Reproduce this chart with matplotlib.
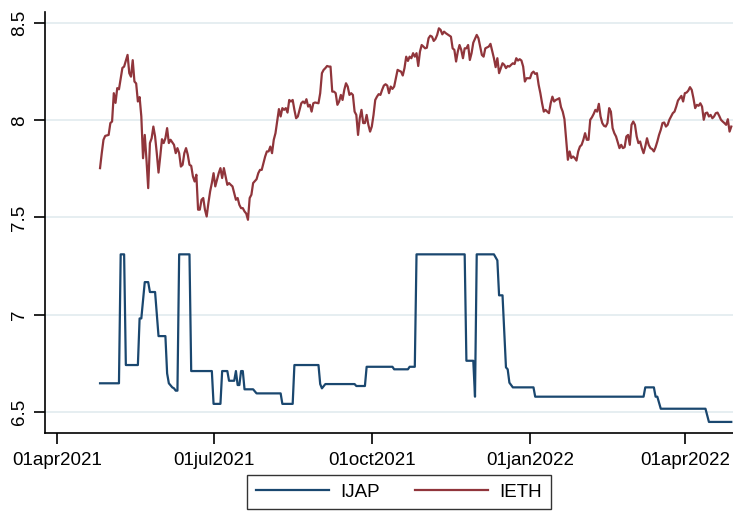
import numpy as np
import matplotlib
matplotlib.use("Agg")
import matplotlib.pyplot as plt
import matplotlib.dates as mdates

plt.rcParams['font.family'] = ['Liberation Sans', 'DejaVu Sans']

# days since 01apr2021
base_date = np.datetime64('2021-04-01')

ieth_day = [25, 26, 27, 28, 30, 31, 32, 33, 34, 35, 36, 38, 39, 41, 42, 43, 44, 45, 46, 47,
            48, 49, 50, 51, 52, 53, 54, 55, 56, 57, 58, 59, 60, 61, 62, 63, 64, 65, 66, 68,
            69, 70, 71, 72, 73, 74, 75, 76, 77, 78, 79, 80, 81, 82, 83, 84, 85, 86, 87, 88,
            89, 90, 91, 92, 93, 94, 95, 96, 97, 98, 99, 100, 101, 102, 104, 105, 106, 107, 108, 109,
            110, 111, 112, 113, 114, 116, 117, 118, 119, 120, 121, 122, 123, 124, 125, 126, 127, 128, 129, 130,
            131, 132, 133, 134, 135, 136, 137, 138, 139, 140, 142, 143, 144, 145, 146, 147, 148, 149, 150, 152,
            153, 154, 155, 156, 157, 158, 159, 160, 161, 162, 163, 164, 165, 166, 167, 168, 169, 170, 171, 172,
            173, 174, 175, 176, 177, 178, 179, 180, 181, 182, 183, 184, 185, 186, 187, 188, 189, 190, 191, 192,
            193, 194, 195, 196, 197, 198, 199, 200, 201, 202, 203, 204, 205, 206, 207, 208, 209, 210, 211, 212,
            213, 214, 215, 216, 217, 218, 219, 220, 221, 222, 223, 224, 225, 226, 227, 229, 230, 231, 232, 233,
            234, 235, 236, 237, 238, 239, 240, 241, 242, 244, 245, 246, 247, 248, 249, 251, 252, 254, 255, 256,
            257, 258, 259, 260, 261, 262, 263, 264, 265, 266, 267, 268, 269, 270, 271, 272, 273, 275, 276, 277,
            278, 279, 280, 281, 282, 283, 284, 285, 286, 287, 288, 289, 290, 291, 292, 293, 294, 295, 296, 297,
            298, 299, 300, 301, 302, 303, 304, 305, 306, 307, 308, 309, 310, 311, 312, 313, 314, 315, 316, 317,
            318, 319, 320, 321, 322, 323, 324, 325, 327, 328, 329, 330, 331, 332, 333, 334, 335, 336, 337, 338,
            339, 340, 341, 342, 343, 344, 345, 346, 347, 348, 349, 350, 351, 352, 353, 354, 355, 356, 357, 358,
            359, 360, 361, 362, 363, 364, 365, 366, 367, 368, 369, 370, 371, 372, 373, 374, 375, 376, 377, 378,
            379, 380, 381, 382, 383, 384, 385, 386, 387, 388, 389, 390, 391, 392]
ieth_val = [7.754, 7.831, 7.900, 7.920, 7.925, 7.986, 7.994, 8.140, 8.090, 8.166, 8.160, 8.270, 8.277, 8.337, 8.243, 8.225, 8.310, 8.200, 8.190, 8.097,
            8.120, 8.020, 7.805, 7.925, 7.797, 7.651, 7.883, 7.908, 7.968, 7.917, 7.830, 7.731, 7.814, 7.903, 7.883, 7.908, 7.960, 7.883, 7.900, 7.874,
            7.831, 7.857, 7.831, 7.762, 7.771, 7.831, 7.857, 7.823, 7.771, 7.766, 7.711, 7.685, 7.720, 7.540, 7.540, 7.591, 7.600, 7.540, 7.505, 7.574,
            7.634, 7.677, 7.728, 7.660, 7.694, 7.728, 7.754, 7.703, 7.754, 7.711, 7.668, 7.677, 7.668, 7.660, 7.591, 7.600, 7.565, 7.548, 7.548, 7.531,
            7.520, 7.488, 7.600, 7.617, 7.677, 7.697, 7.728, 7.745, 7.745, 7.780, 7.814, 7.840, 7.840, 7.865, 7.831, 7.900, 7.934, 7.995, 8.058, 8.020,
            8.063, 8.054, 8.063, 8.040, 8.105, 8.097, 8.105, 8.054, 8.011, 8.020, 8.088, 8.097, 8.088, 8.109, 8.071, 8.080, 8.045, 8.088, 8.092, 8.088,
            8.140, 8.243, 8.260, 8.269, 8.280, 8.277, 8.277, 8.148, 8.148, 8.140, 8.080, 8.097, 8.131, 8.105, 8.157, 8.191, 8.174, 8.131, 8.140, 8.131,
            8.045, 8.028, 7.925, 8.011, 8.054, 7.986, 7.986, 8.028, 7.977, 7.942, 7.968, 8.028, 8.105, 8.122, 8.135, 8.131, 8.157, 8.179, 8.186, 8.179,
            8.140, 8.174, 8.162, 8.174, 8.217, 8.260, 8.255, 8.251, 8.231, 8.269, 8.328, 8.306, 8.328, 8.320, 8.346, 8.328, 8.346, 8.280, 8.354, 8.388,
            8.380, 8.371, 8.374, 8.423, 8.436, 8.431, 8.409, 8.419, 8.440, 8.474, 8.466, 8.443, 8.457, 8.449, 8.443, 8.431, 8.371, 8.363, 8.303, 8.354,
            8.388, 8.363, 8.320, 8.371, 8.371, 8.388, 8.311, 8.346, 8.400, 8.440, 8.423, 8.380, 8.337, 8.328, 8.371, 8.380, 8.394, 8.320, 8.274, 8.320,
            8.243, 8.269, 8.294, 8.286, 8.269, 8.280, 8.277, 8.286, 8.294, 8.290, 8.320, 8.308, 8.315, 8.308, 8.277, 8.200, 8.217, 8.217, 8.243, 8.251,
            8.239, 8.243, 8.183, 8.140, 8.088, 8.045, 8.054, 8.045, 8.037, 8.088, 8.122, 8.097, 8.105, 8.109, 8.114, 8.068, 8.045, 8.006, 7.900, 7.797,
            7.840, 7.806, 7.814, 7.806, 7.793, 7.840, 7.865, 7.874, 7.900, 7.934, 7.900, 7.900, 8.003, 8.016, 8.033, 8.054, 8.045, 8.085, 8.020, 7.986,
            7.972, 7.968, 7.986, 8.063, 8.045, 7.960, 7.934, 7.917, 7.857, 7.874, 7.857, 7.862, 7.917, 7.925, 7.874, 7.977, 7.994, 7.977, 7.917, 7.883,
            7.891, 7.857, 7.831, 7.865, 7.908, 7.874, 7.857, 7.852, 7.840, 7.862, 7.891, 7.925, 7.951, 7.986, 7.989, 7.968, 7.977, 8.003, 8.020, 8.037,
            8.045, 8.071, 8.102, 8.114, 8.126, 8.097, 8.140, 8.143, 8.153, 8.171, 8.157, 8.114, 8.063, 8.080, 8.075, 8.088, 8.071, 8.003, 8.037, 8.040,
            8.020, 8.028, 8.011, 8.020, 8.037, 8.040, 8.023, 8.003, 7.994, 7.986, 7.977, 8.006, 7.942, 7.968]

ijap_day = [25, 36, 37, 39, 40, 47, 48, 49, 51, 53, 54, 57, 59, 63, 64, 65, 67, 68, 69, 70,
            71, 77, 78, 90, 91, 95, 96, 99, 100, 103, 104, 105, 106, 107, 108, 109, 114, 116, 130, 131,
            137, 138, 152, 153, 154, 156, 173, 174, 179, 180, 195, 196, 204, 205, 208, 209, 237, 238, 242, 243,
            244, 254, 256, 257, 259, 261, 262, 263, 265, 277, 278, 341, 342, 347, 348, 349, 351, 377, 379, 392]
ijap_val = [6.646, 6.646, 7.310, 7.310, 6.740, 6.740, 6.980, 6.980, 7.167, 7.167, 7.116, 7.116, 6.889, 6.889, 6.697, 6.646, 6.625, 6.620, 6.608, 6.608,
            7.310, 7.310, 6.709, 6.709, 6.540, 6.540, 6.709, 6.709, 6.659, 6.659, 6.709, 6.637, 6.637, 6.709, 6.709, 6.615, 6.615, 6.594, 6.594, 6.540,
            6.540, 6.740, 6.740, 6.642, 6.620, 6.642, 6.642, 6.632, 6.632, 6.731, 6.731, 6.718, 6.718, 6.731, 6.731, 7.310, 7.310, 6.762, 6.762, 6.577,
            7.310, 7.310, 7.279, 7.099, 7.099, 6.728, 6.718, 6.649, 6.625, 6.625, 6.577, 6.577, 6.625, 6.625, 6.577, 6.577, 6.515, 6.515, 6.447, 6.447]

series_labels = ['IJAP', 'IETH']
tick_dates = ['2021-04-01', '2021-07-01', '2021-10-01', '2022-01-01', '2022-04-01']
tick_labels = ['01apr2021', '01jul2021', '01oct2021', '01jan2022', '01apr2022']
y_ticks = [6.5, 7, 7.5, 8, 8.5]
y_labels = ['6.5', '7', '7.5', '8', '8.5']

def to_dates(days):
    return base_date + np.array(days).astype('timedelta64[D]')

W, H = 733, 512
fig = plt.figure(figsize=(W / 100, H / 100), dpi=100)
ax = fig.add_axes([45 / W, (H - 433) / H, (W - 45) / W, (433 - 12) / H])

navy = '#1a476f'
maroon = '#90353b'
l1, = ax.plot(to_dates(ijap_day), ijap_val, color=navy, lw=1.6, label=series_labels[0])
l2, = ax.plot(to_dates(ieth_day), ieth_val, color=maroon, lw=1.6, label=series_labels[1])

ax.set_xlim(np.datetime64('2021-03-25'), np.datetime64('2022-04-29'))
ax.set_ylim(6.39, 8.558)

ax.set_xticks(np.array(tick_dates, dtype='datetime64[D]'))
ax.set_xticklabels(tick_labels)
ax.set_yticks(y_ticks)
ax.set_yticklabels(y_labels, rotation=90, va='center')

ax.grid(axis='y', color='#e2ebef', lw=1.2)
ax.grid(axis='x', visible=False)
ax.set_axisbelow(True)
for s in ['top', 'right']:
    ax.spines[s].set_visible(False)
for s in ['left', 'bottom']:
    ax.spines[s].set_linewidth(1.2)
    ax.spines[s].set_color('black')
ax.tick_params(axis='both', direction='out', length=8, width=1.2, labelsize=13.5, colors='black')
ax.tick_params(axis='x', pad=6)
ax.tick_params(axis='y', pad=4)

leg = fig.legend(handles=[l1, l2], loc='center', bbox_to_anchor=(399 / W, 1 - 492 / H), ncol=2,
                 frameon=True, fancybox=False, edgecolor='black', fontsize=13.5,
                 handlelength=3.9, columnspacing=1.9, handletextpad=0.6, borderpad=0.45,
                 borderaxespad=0)
leg.get_frame().set_linewidth(1.0)

fig.savefig('out.png', dpi=100, facecolor='white')
